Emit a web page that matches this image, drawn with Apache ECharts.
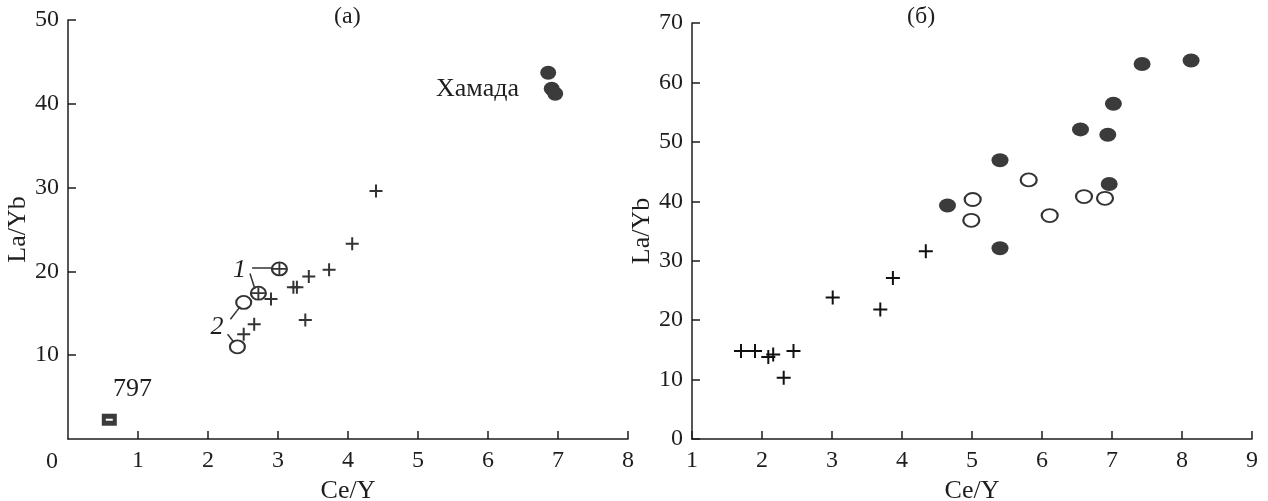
<!DOCTYPE html>
<html>
<head>
<meta charset="utf-8">
<script src="https://cdn.jsdelivr.net/npm/echarts@6/dist/echarts.min.js"></script>
<style>
html,body{margin:0;padding:0;background:#fff;}
#c{width:1268px;height:501px;}
</style>
</head>
<body>
<div id="c"></div>
<script>
// ---------- Panel (a) data: [Ce/Y, La/Yb] ----------
const aCrosses = [[4.40,29.6],[4.06,23.3],[3.73,20.2],[3.44,19.4],[3.22,18.1],[3.27,18.1],[3.39,14.2],[2.90,16.7],[2.66,13.7],[2.51,12.5]];
const aCircledPlus = [[3.02,20.3],[2.72,17.4]];
const aOpen = [[2.51,16.3],[2.42,11.0]];
const aSample797 = [[0.59,2.3]];
const aHamada = [[6.86,43.7],[6.91,41.8],[6.96,41.2]];
// annotation labels [x, y, text]
const aLabels = [[2.45,20.2,'1'],[2.13,13.4,'2']];
const aTextLabels = [[0.92,5.9,'797'],[5.85,41.7,'Хамада']];
// leader lines [[x1,y1],[x2,y2]]
const aLeaders = [
  [[2.63,20.45],[2.93,20.45]],
  [[2.60,19.76],[2.67,17.9]],
  [[2.32,14.3],[2.46,15.8]],
  [[2.28,12.5],[2.37,11.55]]
];
// ---------- Panel (б) data ----------
const bCrosses = [[1.70,14.8],[1.90,14.8],[2.09,13.8],[2.16,14.2],[2.45,14.8],[2.31,10.3],[3.01,23.8],[3.69,21.8],[3.87,27.1],[4.34,31.6]];
const bFilled = [[7.43,63.1],[8.13,63.7],[7.02,56.4],[6.55,52.1],[6.94,51.2],[5.40,46.9],[6.96,42.9],[4.65,39.3],[5.40,32.1]];
const bOpen = [[5.81,43.6],[5.01,40.3],[4.99,36.8],[6.11,37.6],[6.60,40.8],[6.90,40.5]];
// axis ticks
const aXTicks = [0,1,2,3,4,5,6,7,8];
const aYTicks = [0,10,20,30,40,50];
const bXTicks = [1,2,3,4,5,6,7,8,9];
const bYTicks = [0,10,20,30,40,50,60,70];

const FONT = '"Liberation Serif", "DejaVu Serif", serif';
const INK = '#1e1e1e';
const DARK = '#3b3b3b';
const CROSS = 'path://M0,7H14M7,0V14';

function axisX(gridIndex, ticks, name){
  return {
    type:'value', gridIndex, min:ticks[0], max:ticks[ticks.length-1], interval:1,
    name, nameLocation:'middle', nameGap:34,
    nameTextStyle:{fontFamily:FONT, fontSize:26, color:INK},
    axisLine:{show:true, onZero:false, lineStyle:{color:INK, width:1.5}},
    axisTick:{show:true, inside:true, length:8, lineStyle:{color:INK, width:1.5}},
    axisLabel:{fontFamily:FONT, fontSize:24, color:INK, margin:10,
      showMinLabel: gridIndex===1},
    splitLine:{show:false}
  };
}
function axisY(gridIndex, ticks, gap, showMin){
  return {
    type:'value', gridIndex, min:ticks[0], max:ticks[ticks.length-1], interval:10,
    name:'La/Yb', nameLocation:'middle', nameGap:gap, nameRotate:90,
    nameTextStyle:{fontFamily:FONT, fontSize:26, color:INK},
    axisLine:{show:true, onZero:false, lineStyle:{color:INK, width:1.5}},
    axisTick:{show:true, inside:true, length:8, lineStyle:{color:INK, width:1.5}},
    axisLabel:{fontFamily:FONT, fontSize:24, color:INK, margin:9, showMinLabel:showMin},
    splitLine:{show:false}
  };
}

const chart = echarts.init(document.getElementById('c'), null, {renderer:'canvas'});
const option = {
  animation:false,
  backgroundColor:'#fff',
  grid:[
    {left:68, right:640, top:20, bottom:62, containLabel:false, outerBoundsMode:'none'},
    {left:692, right:16, top:23, bottom:62, containLabel:false, outerBoundsMode:'none'}
  ],
  xAxis:[axisX(0,aXTicks,'Ce/Y'), axisX(1,bXTicks,'Ce/Y')],
  yAxis:[axisY(0,aYTicks,35,false), axisY(1,bYTicks,35,true)],
  graphic:[
    {type:'text', left:334, top:5, style:{text:'(a)', font:'24px '+FONT, fill:INK}},
    {type:'text', left:907, top:5, style:{text:'(б)', font:'24px '+FONT, fill:INK}},
    {type:'text', left:46, top:450, style:{text:'0', font:'24px '+FONT, fill:INK}}
  ],
  series:[
    // ---- panel a ----
    {type:'scatter', xAxisIndex:0, yAxisIndex:0, data:aCrosses, symbol:CROSS, symbolSize:13,
      itemStyle:{color:'none', borderColor:'#333', borderWidth:2, opacity:1}, z:3},
    {type:'scatter', xAxisIndex:0, yAxisIndex:0, data:aCircledPlus, symbol:'circle', symbolSize:[15,13],
      itemStyle:{color:'#fff', borderColor:'#333', borderWidth:2, opacity:1}, z:4},
    {type:'scatter', xAxisIndex:0, yAxisIndex:0, data:aCircledPlus, symbol:CROSS, symbolSize:[13,12],
      itemStyle:{color:'none', borderColor:'#333', borderWidth:1.8, opacity:1}, z:5},
    {type:'scatter', xAxisIndex:0, yAxisIndex:0, data:aOpen, symbol:'circle', symbolSize:[15,13],
      itemStyle:{color:'#fff', borderColor:'#333', borderWidth:2, opacity:1}, z:4},
    {type:'scatter', xAxisIndex:0, yAxisIndex:0, data:aSample797, symbol:'rect', symbolSize:[15,12],
      itemStyle:{color:DARK, opacity:1}, z:4},
    {type:'scatter', xAxisIndex:0, yAxisIndex:0, data:aSample797, symbol:'rect', symbolSize:[7,2],
      itemStyle:{color:'#fff', opacity:1}, z:5},
    {type:'scatter', xAxisIndex:0, yAxisIndex:0, data:aHamada, symbol:'circle', symbolSize:[16,14],
      itemStyle:{color:DARK, opacity:1}, z:4},
    // annotation numbers and leader lines
    {type:'scatter', xAxisIndex:0, yAxisIndex:0, symbolSize:0, silent:true,
      itemStyle:{opacity:1},
      data:aLabels.map(d=>({value:[d[0],d[1]], name:d[2]})),
      label:{show:true, position:'inside', formatter:p=>p.name,
        fontFamily:FONT, fontSize:26, fontStyle:'italic', color:INK},
      markLine:{silent:true, symbol:['none','none'], animation:false,
        label:{show:false}, lineStyle:{color:'#333', width:1.5, type:'solid', opacity:1},
        data:aLeaders.map(l=>[{coord:l[0]},{coord:l[1]}])}
    },
    {type:'scatter', xAxisIndex:0, yAxisIndex:0, symbolSize:0, silent:true,
      itemStyle:{opacity:1},
      data:aTextLabels.map(d=>({value:[d[0],d[1]], name:d[2]})),
      label:{show:true, position:'inside', formatter:p=>p.name,
        fontFamily:FONT, fontSize:26, color:INK}
    },
    // ---- panel b ----
    {type:'scatter', xAxisIndex:1, yAxisIndex:1, data:bCrosses, symbol:CROSS, symbolSize:14,
      itemStyle:{color:'none', borderColor:'#111', borderWidth:2, opacity:1}, z:3},
    {type:'scatter', xAxisIndex:1, yAxisIndex:1, data:bFilled, symbol:'circle', symbolSize:[17,14],
      itemStyle:{color:DARK, opacity:1}, z:4},
    {type:'scatter', xAxisIndex:1, yAxisIndex:1, data:bOpen, symbol:'circle', symbolSize:[16,13],
      itemStyle:{color:'#fff', borderColor:'#333', borderWidth:2, opacity:1}, z:4}
  ]
};
chart.setOption(option);
</script>
</body>
</html>
